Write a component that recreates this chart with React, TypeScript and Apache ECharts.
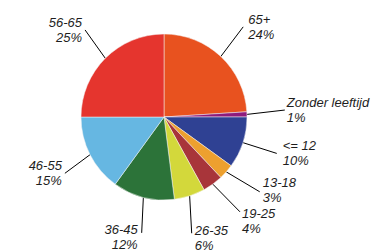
import React, { useEffect, useRef } from "react";
import * as echarts from "echarts";

const categories = ["65+", "Zonder leeftijd", "<= 12", "13-18", "19-25", "26-35", "36-45", "46-55", "56-65"];
const values = [24, 1, 10, 3, 4, 6, 12, 15, 25];
const colors = ["#E8521F", "#8E1B7C", "#2F4193", "#EDA02F", "#A8353A", "#D3D83B", "#2C7339", "#66B7E2", "#E5352E"];

// label layout tweaks (leader angle nudge in degrees, leader end distance from centre, label vertical shift)
const labelNudge = [-1.9, -1.5, -0.1, -3.4, -2.7, 4.6, -3.5, -2.6, 2.8];
const labelReach = [120, 121, 118.5, 121.5, 121.5, 119.5, 118, 114, 117.5];
const labelShiftY = [0, 0, 0, -2, 9.5, 4.5, 4.5, 0, 0];
const labelGap = [5, 2, 6, 3, 2, 3, 4, 3, 3];
const CENTER: [number, number] = [164, 117];
const RADIUS = 83;

export default function App() {
  const ref = useRef<HTMLDivElement>(null);
  useEffect(() => {
    if (!ref.current) return;
    const chart = echarts.init(ref.current, undefined, { renderer: "svg" });
    chart.setOption({
      animation: false,
      backgroundColor: "#ffffff",
      series: [
        {
          type: "pie",
          center: CENTER,
          radius: RADIUS,
          startAngle: 90,
          clockwise: true,
          avoidLabelOverlap: false,
          data: categories.map((c, i) => ({ name: c, value: values[i], itemStyle: { color: colors[i] } })),
          itemStyle: { borderWidth: 0.5, borderColor: "#f4f4f4" },
          label: {
            show: true,
            position: "outside",
            formatter: "{b}\n{c}%",
            fontFamily: "Liberation Sans, Arial, sans-serif",
            fontStyle: "italic",
            fontSize: 13,
            lineHeight: 15,
            color: "#1E1E1E",
          },
          labelLine: {
            show: true,
            length: 36,
            length2: 0,
            lineStyle: { color: "#000000", width: 1 },
          },
          labelLayout: (params: any) => {
            const pts = params.labelLinePoints;
            if (!pts) return {};
            const i = params.dataIndex;
            const p0 = pts[0];
            const a = Math.atan2(p0[0] - CENTER[0], -(p0[1] - CENTER[1]));
            const b = a + ((labelNudge[i] || 0) * Math.PI) / 180;
            const R = labelReach[i] || 120;
            const ex = CENTER[0] + R * Math.sin(b);
            const ey = CENTER[1] - R * Math.cos(b);
            const right = ex >= CENTER[0];
            const gap = labelGap[i] ?? 3;
            return {
              hideOverlap: false,
              x: ex + (right ? gap : -gap),
              y: ey + (labelShiftY[i] || 0),
              align: right ? "left" : "right",
              verticalAlign: "middle",
              labelLinePoints: [
                [p0[0], p0[1]],
                [ex, ey],
                [ex, ey],
              ],
            };
          },
          emphasis: { disabled: true },
        },
      ],
    });
    return () => chart.dispose();
  }, []);
  return <div ref={ref} style={{ width: 391, height: 252, position: "absolute", left: 0, top: 0 }} />;
}
